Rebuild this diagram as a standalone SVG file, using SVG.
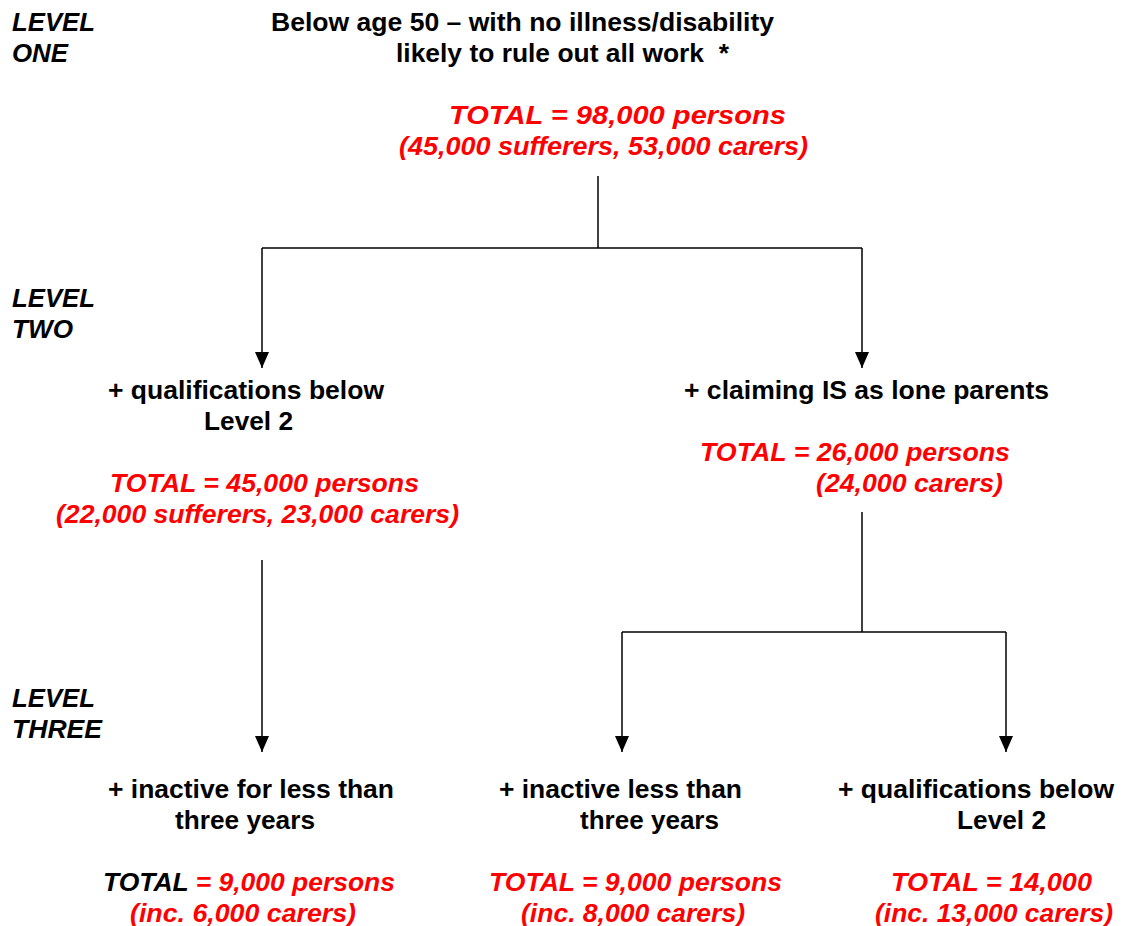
<svg xmlns="http://www.w3.org/2000/svg" width="1123" height="926" viewBox="0 0 1123 926">
<style>
text{font-family:"Liberation Sans",Arial,sans-serif;font-weight:bold;font-size:25px;fill:#000}
.lvl{font-style:italic}
.red{font-style:italic;fill:#FF0000}
.blk{fill:#000}
.ln{stroke:#000;stroke-width:1.5;fill:none}
</style>
<defs>
<marker id="arr" markerUnits="userSpaceOnUse" markerWidth="16" markerHeight="14" viewBox="0 0 16 14" refX="16" refY="7" orient="auto">
<path d="M0,0 L16,7 L0,14 z" fill="#000"/>
</marker>
</defs>
<rect width="1123" height="926" fill="#fff"/>
<g id="levels">
<text class="lvl" x="12" y="31" textLength="83" lengthAdjust="spacingAndGlyphs">LEVEL</text>
<text class="lvl" x="12" y="62" textLength="56" lengthAdjust="spacingAndGlyphs">ONE</text>
<text class="lvl" x="12" y="307" textLength="83" lengthAdjust="spacingAndGlyphs">LEVEL</text>
<text class="lvl" x="12" y="338" textLength="61" lengthAdjust="spacingAndGlyphs">TWO</text>
<text class="lvl" x="12" y="707" textLength="83" lengthAdjust="spacingAndGlyphs">LEVEL</text>
<text class="lvl" x="12" y="738" textLength="90" lengthAdjust="spacingAndGlyphs">THREE</text>
</g>
<g id="connectors">
<path class="ln" d="M598,176 V248"/>
<path class="ln" d="M262,248 H862"/>
<path class="ln" d="M262,248 V368" marker-end="url(#arr)"/>
<path class="ln" d="M862,248 V368" marker-end="url(#arr)"/>
<path class="ln" d="M262,560 V752" marker-end="url(#arr)"/>
<path class="ln" d="M862,512 V632"/>
<path class="ln" d="M622,632 H1006"/>
<path class="ln" d="M622,632 V752" marker-end="url(#arr)"/>
<path class="ln" d="M1006,632 V752" marker-end="url(#arr)"/>
</g>
<g id="node-root">
<text x="271" y="31" textLength="503" lengthAdjust="spacingAndGlyphs">Below age 50 – with no illness/disability</text>
<text x="396" y="62" textLength="333" lengthAdjust="spacingAndGlyphs" xml:space="preserve">likely to rule out all work  *</text>
<text class="red" x="449" y="124" textLength="337" lengthAdjust="spacingAndGlyphs">TOTAL = 98,000 persons</text>
<text class="red" x="399" y="155" textLength="409" lengthAdjust="spacingAndGlyphs">(45,000 sufferers, 53,000 carers)</text>
</g>
<g id="node-quals">
<text x="108" y="399" textLength="276" lengthAdjust="spacingAndGlyphs">+ qualifications below</text>
<text x="204" y="430" textLength="89" lengthAdjust="spacingAndGlyphs">Level 2</text>
<text class="red" x="110" y="492" textLength="309" lengthAdjust="spacingAndGlyphs">TOTAL = 45,000 persons</text>
<text class="red" x="56" y="523" textLength="403" lengthAdjust="spacingAndGlyphs">(22,000 sufferers, 23,000 carers)</text>
</g>
<g id="node-lone-parents">
<text x="684" y="399" textLength="365" lengthAdjust="spacingAndGlyphs">+ claiming IS as lone parents</text>
<text class="red" x="700" y="461" textLength="310" lengthAdjust="spacingAndGlyphs">TOTAL = 26,000 persons</text>
<text class="red" x="816" y="492" textLength="187" lengthAdjust="spacingAndGlyphs">(24,000 carers)</text>
</g>
<g id="node-inactive-a">
<text x="108" y="798" textLength="286" lengthAdjust="spacingAndGlyphs">+ inactive for less than</text>
<text x="175" y="829" textLength="140" lengthAdjust="spacingAndGlyphs">three years</text>
<text class="red" x="103" y="891" textLength="292" lengthAdjust="spacingAndGlyphs"><tspan class="blk">TOTAL</tspan> = 9,000 persons</text>
<text class="red" x="130" y="922" textLength="226" lengthAdjust="spacingAndGlyphs">(inc. 6,000 carers)</text>
</g>
<g id="node-inactive-b">
<text x="499" y="798" textLength="243" lengthAdjust="spacingAndGlyphs">+ inactive less than</text>
<text x="580" y="829" textLength="139" lengthAdjust="spacingAndGlyphs">three years</text>
<text class="red" x="489" y="891" textLength="293" lengthAdjust="spacingAndGlyphs">TOTAL = 9,000 persons</text>
<text class="red" x="521" y="922" textLength="224" lengthAdjust="spacingAndGlyphs">(inc. 8,000 carers)</text>
</g>
<g id="node-quals-b">
<text x="838" y="798" textLength="276" lengthAdjust="spacingAndGlyphs">+ qualifications below</text>
<text x="957" y="829" textLength="89" lengthAdjust="spacingAndGlyphs">Level 2</text>
<text class="red" x="891" y="891" textLength="201" lengthAdjust="spacingAndGlyphs">TOTAL = 14,000</text>
<text class="red" x="875" y="922" textLength="238" lengthAdjust="spacingAndGlyphs">(inc. 13,000 carers)</text>
</g>
</svg>
